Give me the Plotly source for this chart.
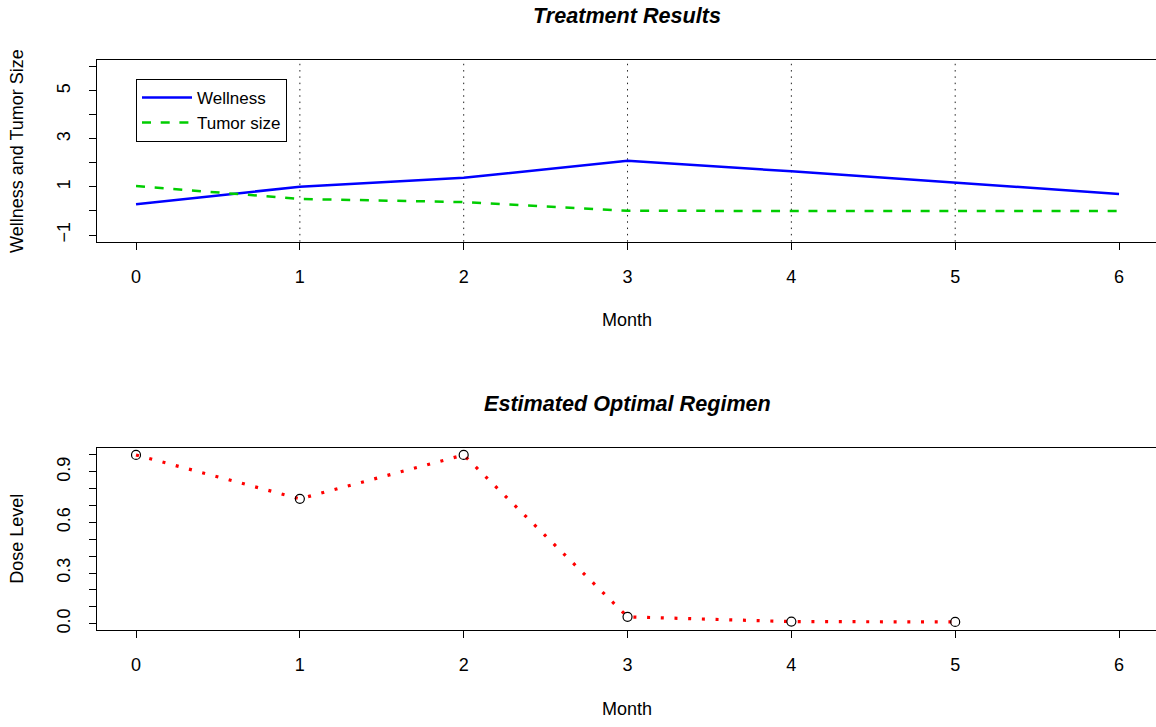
import plotly.graph_objects as go

# ---- data ----
months = [0, 1, 2, 3, 4, 5, 6]
wellness = [0.28, 1.01, 1.38, 2.09, 1.65, 1.18, 0.71]
tumor_size = [1.04, 0.50, 0.37, 0.01, 0.0, 0.0, 0.0]

dose_months = [0, 1, 2, 3, 4, 5]
dose_level = [1.0, 0.74, 1.0, 0.04, 0.012, 0.01]

grid_months = [1, 2, 3, 4, 5]
x_ticks = [0, 1, 2, 3, 4, 5, 6]
x_tick_labels = ["0", "1", "2", "3", "4", "5", "6"]
top_y_ticks = [-1, 0, 1, 2, 3, 4, 5, 6]
top_y_labels = ["\u22121", "", "1", "", "3", "", "5", ""]
dose_y_ticks = [0.0, 0.1, 0.2, 0.3, 0.4, 0.5, 0.6, 0.7, 0.8, 0.9, 1.0]
dose_y_labels = ["0.0", "", "", "0.3", "", "", "0.6", "", "", "0.9", ""]

# ---- layout helpers (page pixels; body margin removed after render) ----
W, H = 1160, 727   # plot box runs slightly past the right edge of the 1156px window
FONT = "Liberation Sans, Arial, Helvetica, sans-serif"


def px(x):
    return x / W


def py(y):
    return 1 - y / H


PLOT_L = 96.7
TOP_T, TOP_B = 60.7, 243.0
BOT_T, BOT_B = 450.7, 633.0
X_RANGE = [-0.24, 6.25]

fig = go.Figure()

fig.add_trace(go.Scatter(
    x=months, y=wellness, mode="lines", name="Wellness",
    line=dict(color="#0000FF", width=2.5), xaxis="x", yaxis="y"))
fig.add_trace(go.Scatter(
    x=months, y=tumor_size, mode="lines", name="Tumor size",
    line=dict(color="#00CD00", width=2.5, dash="9px,9.7px"), xaxis="x", yaxis="y"))

fig.add_trace(go.Scatter(
    x=dose_months, y=dose_level, mode="lines", showlegend=False,
    line=dict(color="#FF0000", width=3.2, dash="3px,10.7px"), xaxis="x2", yaxis="y2"))
fig.add_trace(go.Scatter(
    x=dose_months, y=dose_level, mode="markers", showlegend=False,
    marker=dict(symbol="circle-open", size=9, color="black", line=dict(width=1.2, color="black")),
    xaxis="x2", yaxis="y2"))

for m in grid_months:
    fig.add_shape(type="line", xref="x", yref="y domain", x0=m, x1=m, y0=0, y1=1,
                  line=dict(color="#222222", width=1, dash="1.5px,4.8px"), layer="below")

axis_common = dict(
    showgrid=False, zeroline=False, showline=True, linecolor="black", linewidth=1,
    ticks="outside", ticklen=7, tickwidth=1, tickcolor="black",
    tickfont=dict(family=FONT, size=18, color="black"),
)

fig.update_layout(
    width=W, height=H,
    margin=dict(l=0, r=0, t=0, b=0),
    paper_bgcolor="white", plot_bgcolor="white",
    font=dict(family=FONT, size=18, color="black"),
    xaxis=dict(domain=[px(PLOT_L), 1], range=X_RANGE, anchor="y", mirror=True,
               tickvals=x_ticks, ticktext=x_tick_labels, ticklabelstandoff=12, **axis_common),
    yaxis=dict(domain=[py(TOP_B), py(TOP_T)], range=[-1.276, 6.267], anchor="x",
               tickvals=top_y_ticks, ticktext=top_y_labels, tickangle=-90,
               ticklabelstandoff=12, **axis_common),
    xaxis2=dict(domain=[px(PLOT_L), 1], range=X_RANGE, anchor="y2", mirror=True,
                tickvals=x_ticks, ticktext=x_tick_labels, ticklabelstandoff=12, **axis_common),
    yaxis2=dict(domain=[py(BOT_B), py(BOT_T)], range=[-0.035, 1.040], anchor="x2",
                tickvals=dose_y_ticks, ticktext=dose_y_labels, tickangle=-90,
                ticklabelstandoff=12, **axis_common),
    legend=dict(x=px(136), y=py(79.3), xanchor="left", yanchor="top",
                bordercolor="black", borderwidth=1, bgcolor="white", itemwidth=50,
                font=dict(family=FONT, size=17, color="black"), tracegroupgap=0),
)

cx = (PLOT_L + 1158) / 2
annotations = [
    dict(text="<b><i>Treatment Results</i></b>", x=px(cx), y=py(16), size=21.6),
    dict(text="Month", x=px(cx), y=py(322), size=18),
    dict(text="<b><i>Estimated Optimal Regimen</i></b>", x=px(cx), y=py(406), size=21.6),
    dict(text="Month", x=px(cx), y=py(713), size=18),
]
for a in annotations:
    fig.add_annotation(text=a["text"], x=a["x"], y=a["y"], xref="paper", yref="paper",
                       showarrow=False, xanchor="center", yanchor="middle",
                       font=dict(family=FONT, size=a["size"], color="black"))

for text, ymid in [("Wellness and Tumor Size", (TOP_T + TOP_B) / 2), ("Dose Level", (BOT_T + BOT_B) / 2)]:
    fig.add_annotation(text=text, x=px(17), y=py(ymid), xref="paper", yref="paper",
                       showarrow=False, xanchor="center", yanchor="middle", textangle=-90,
                       font=dict(family=FONT, size=18, color="black"))

fig.write_html("out.html", config={"displayModeBar": False},
               post_script="document.body.style.margin='0';document.body.style.overflow='hidden';")
